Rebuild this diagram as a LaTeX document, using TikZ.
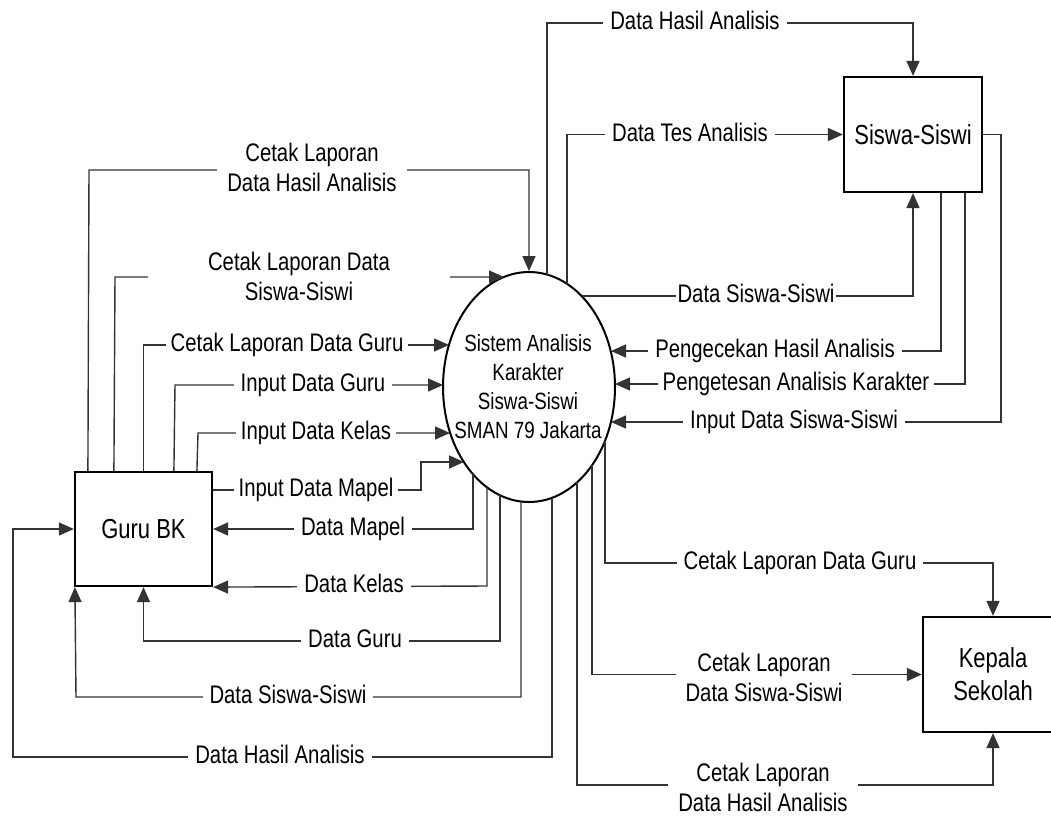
\documentclass[tikz,border=0pt]{standalone}
\usepackage{fontspec}
\setmainfont{Liberation Sans}[FakeStretch=0.8]
\usetikzlibrary{arrows.meta,shapes.geometric,calc}
\begin{document}
\begin{tikzpicture}[x=1pt,y=-1pt,
 conn/.style={draw=black!80,line width=1.4pt},
 arr/.style={conn,-{Triangle[length=15pt,width=13pt]}},
 ent/.style={draw=black,line width=2.2pt,fill=white,font=\fontsize{27.5}{33}\selectfont,align=center,inner sep=0pt},
 lbl/.style={fill=white,font=\fontsize{25.4}{30}\selectfont,inner xsep=7pt,inner ysep=1pt,text height=18.5pt,text depth=5pt},
 lbltwo/.style={fill=white,font=\fontsize{25.4}{30}\selectfont,align=center,inner xsep=7pt,inner ysep=1pt},
]
\useasboundingbox (0,0) rectangle (1051,815);
\clip (0,0) rectangle (1051,815);

% entities
\node[ent,minimum width=137pt,minimum height=114pt] (guru) at (143.5,529) {Guru BK};
\node[ent,minimum width=138pt,minimum height=115pt] (siswa) at (913,134.5) {Siswa-Siswi};
\node[ent,minimum width=140pt,minimum height=115pt] (kepala) at (993,674.5) {Kepala\\Sekolah};
\node[draw,line width=2pt,ellipse,minimum width=172pt,minimum height=230pt,inner sep=0pt] (ell) at (529,387) {};
\node[font=\fontsize{23.5}{29}\selectfont,align=center] (elltxt) at (528,387) {Sistem Analisis\\Karakter\\Siswa-Siswi\\SMAN 79 Jakarta};

% ellipse boundary points
\coordinate (eA) at ($(ell.center)+(18,-112.5)$);
\coordinate (eB) at ($(ell.center)+(38,-103)$);
\coordinate (eC) at ($(ell.center)+(53,-91)$);
\coordinate (eD) at ($(ell.center)+(82,-36)$);
\coordinate (eE) at ($(ell.center)+(86,-3)$);
\coordinate (eF) at ($(ell.center)+(82,35)$);
\coordinate (eH) at ($(ell.center)+(-25,-110)$);
\coordinate (eI) at ($(ell.center)+(-80,-42)$);
\coordinate (eJ) at ($(ell.center)+(-86,-2)$);
\coordinate (eK) at ($(ell.center)+(-79,46)$);
\coordinate (eL) at ($(ell.center)+(-65,75)$);
\coordinate (eM) at ($(ell.center)+(-56,87)$);
\coordinate (eN) at ($(ell.center)+(-42,100)$);
\coordinate (eO) at ($(ell.center)+(-29,108)$);
\coordinate (eP) at ($(ell.center)+(-8,114.5)$);
\coordinate (eQ) at ($(ell.center)+(23,111)$);
\coordinate (eR) at ($(ell.center)+(48,95)$);
\coordinate (eS) at ($(ell.center)+(63,78)$);
\coordinate (eT) at ($(ell.center)+(76,54)$);

% bend points
\coordinate (b1a) at (547,23);   \coordinate (b1b) at (913,23);
\coordinate (b2) at (567,134.5);
\coordinate (b3) at (913,296);
\coordinate (b4) at (941,351);
\coordinate (b5) at (965,384);
\coordinate (b6a) at (1001,134.5); \coordinate (b6b) at (1001,422);
\coordinate (b7a) at (89,170);   \coordinate (b7b) at (529,170);
\coordinate (b8) at (115,277);
\coordinate (b9) at (143.5,345);
\coordinate (b10) at (175,385);
\coordinate (b11) at (198,433);
\coordinate (b12a) at (421,490); \coordinate (b12b) at (421,462);
\coordinate (b13) at (473,529);
\coordinate (b14) at (487,586);
\coordinate (b15a) at (500,641); \coordinate (b15b) at (143.5,641);
\coordinate (b16a) at (521,697); \coordinate (b16b) at (76,697);
\coordinate (b17a) at (552,757); \coordinate (b17b) at (13,757); \coordinate (b17c) at (13,529);
\coordinate (b18a) at (605,563); \coordinate (b18b) at (993,563);
\coordinate (b19) at (592,674.5);
\coordinate (b20a) at (577,785); \coordinate (b20b) at (993,785);

% connectors: ellipse <-> Siswa-Siswi
\draw[arr] (eA) -- (b1a) -- (b1b) -- (siswa.north);
\draw[arr] (eB) |- (b2) -- (siswa.west);
\draw[arr] (eC) -- (b3) -- (siswa.south);
\draw[arr] ([xshift=28pt]siswa.south) -- (b4) -- (eD);
\draw[arr] ([xshift=52pt]siswa.south) -- (b5) -- (eE);
\draw[arr] (siswa.east) -- (b6a) -- (b6b) -- (eF);

% Guru BK -> ellipse
\draw[arr] ([xshift=14pt]guru.north west) -- (b7a) -- (b7b) -- (ell.north);
\draw[arr] ([xshift=40pt]guru.north west) -- (b8) -- (eH);
\draw[arr] (guru.north) -- (b9) -- (eI);
\draw[arr] ([xshift=100pt]guru.north west) -- (b10) -- (eJ);
\draw[arr] ([xshift=123pt]guru.north west) -- (b11) -- (eK);
\draw[arr] ([yshift=39pt]guru.east) -- (b12a) -- (b12b) -- (eL);

% ellipse -> Guru BK
\draw[arr] (eM) -- (b13) -- (guru.east);
\draw[arr] (eN) -- (b14) -- (guru.south east);
\draw[arr] (eO) -- (b15a) -- (b15b) -- (guru.south);
\draw[arr] (eP) -- (b16a) -- (b16b) -- ([xshift=1pt]guru.south west);
\draw[arr] (eQ) -- (b17a) -- (b17b) -- (b17c) -- (guru.west);

% ellipse -> Kepala Sekolah
\draw[arr] (eT) -- (b18a) -- (b18b) -- (kepala.north);
\draw[arr] (eS) -- (b19) -- (kepala.west);
\draw[arr] (eR) -- (b20a) -- (b20b) -- (kepala.south);

% labels
\node[lbl] (l1) at (695,23) {Data Hasil Analisis};
\node[lbl] (l2) at (690,134.5) {Data Tes Analisis};
\node[lbl,inner xsep=1.5pt] (l3) at (756,296) {Data Siswa-Siswi};
\node[lbl] (l4) at (775,351) {Pengecekan Hasil Analisis};
\node[lbl,inner xsep=5pt] (l5) at (796,384) {Pengetesan Analisis Karakter};
\node[lbl] (l6) at (794,422) {Input Data Siswa-Siswi};

\node[lbltwo,inner xsep=10pt] (l7) at (312,167) {Cetak Laporan\\Data Hasil Analisis};
\node[lbltwo,minimum width=302pt] (l8) at (299,276) {Cetak Laporan Data\\Siswa-Siswi};
\node[lbl,inner xsep=5pt] (l9) at (287,345) {Cetak Laporan Data Guru};
\node[lbl] (l10) at (313,385) {Input Data Guru};
\node[lbl,inner xsep=5pt] (l11) at (316,433) {Input Data Kelas};
\node[lbl,inner xsep=5pt] (l12) at (316,490) {Input Data Mapel};
\node[lbl] (l13) at (353,529) {Data Mapel};
\node[lbl] (l14) at (354,586) {Data Kelas};
\node[lbl] (l15) at (355,641) {Data Guru};
\node[lbl] (l16) at (288,697) {Data Siswa-Siswi};
\node[lbl] (l17) at (280,757) {Data Hasil Analisis};

\node[lbl] (l18) at (800,563) {Cetak Laporan Data Guru};
\node[lbltwo,inner xsep=10pt] (l19) at (764,677) {Cetak Laporan\\Data Siswa-Siswi};
\node[lbltwo,inner xsep=10pt] (l20) at (763,787) {Cetak Laporan\\Data Hasil Analisis};
\end{tikzpicture}
\end{document}
